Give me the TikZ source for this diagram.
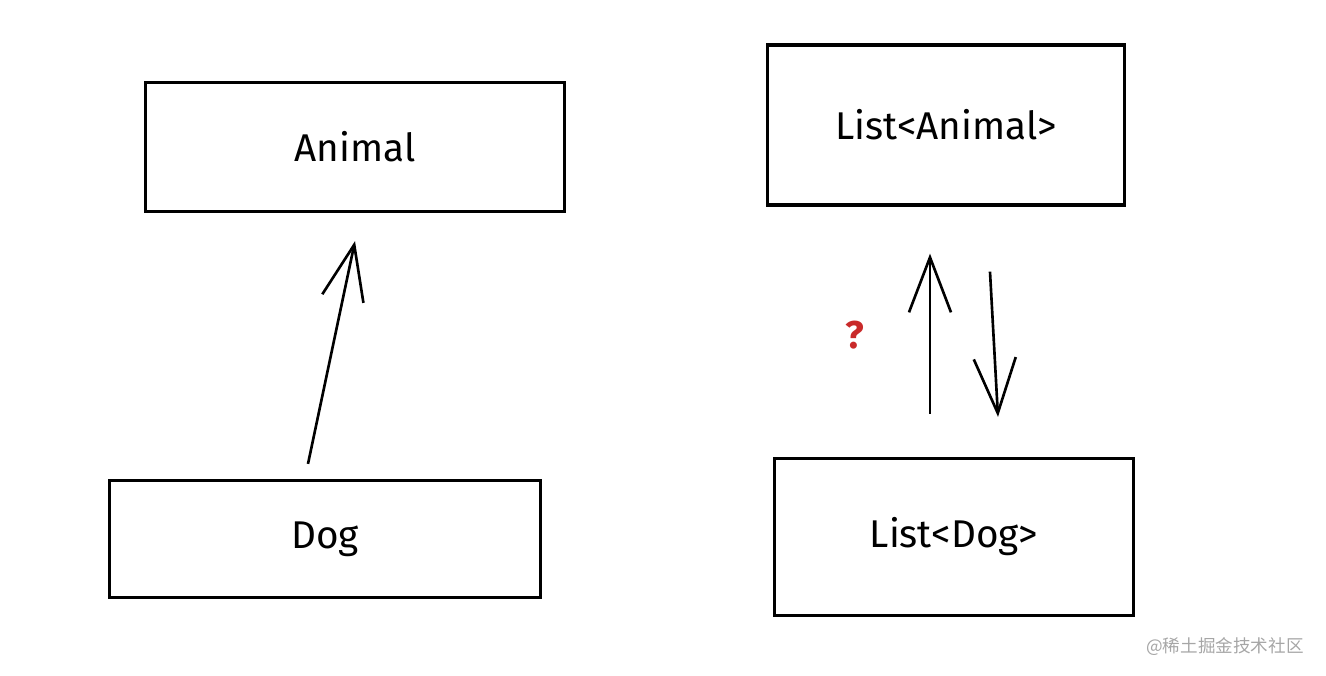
\documentclass[tikz,border=0pt]{standalone}
\usepackage{fontspec}
\setmainfont{Fira Sans}
\newfontfamily\cjkfont{Noto Sans CJK SC}
\usetikzlibrary{arrows.meta}
\definecolor{qred}{HTML}{C92A2A}
\tikzset{
  typebox/.style={draw, line width=0.9pt, font=\fontsize{11}{13}\selectfont},
  sketcharrow/.style={line width=0.75pt, -{Straight Barb[length=5.5mm,width=4.2mm]}}
}
\begin{document}
\begin{tikzpicture}[x=0.01cm, y=-0.01cm, thick]
    \useasboundingbox (0, 0) rectangle (1326, 676);

    % Left side: plain types
    \node[typebox, minimum width=4.19cm, minimum height=1.29cm] (animal) at (355, 147) {Animal};
    \node[typebox, minimum width=4.30cm, minimum height=1.17cm] (dog) at (325, 539) {Dog};
    \draw[sketcharrow] ([shift={(-17,-15)}]dog.north) -- ([shift={(0,28)}]animal.south);

    % Right side: generic lists
    \node[typebox, minimum width=3.57cm, minimum height=1.60cm] (lanimal) at (946, 125) {List<Animal>};
    \node[typebox, minimum width=3.58cm, minimum height=1.57cm] (ldog) at (954, 537) {List<Dog>};
    \draw[sketcharrow] ([shift={(-24,-43)}]ldog.north) -- ([shift={(-16,47)}]lanimal.south);
    \draw[sketcharrow] ([shift={(44,65)}]lanimal.south) -- ([shift={(44,-40)}]ldog.north);
    \node[text=qred, font=\bfseries\fontsize{11}{13}\selectfont] (ask) at (855, 335) {?};

    % Watermark
    \node[text=gray!70, font=\cjkfont\fontsize{5}{6}\selectfont] (mark) at (1225, 647) {@稀土掘金技术社区};
\end{tikzpicture}
\end{document}
